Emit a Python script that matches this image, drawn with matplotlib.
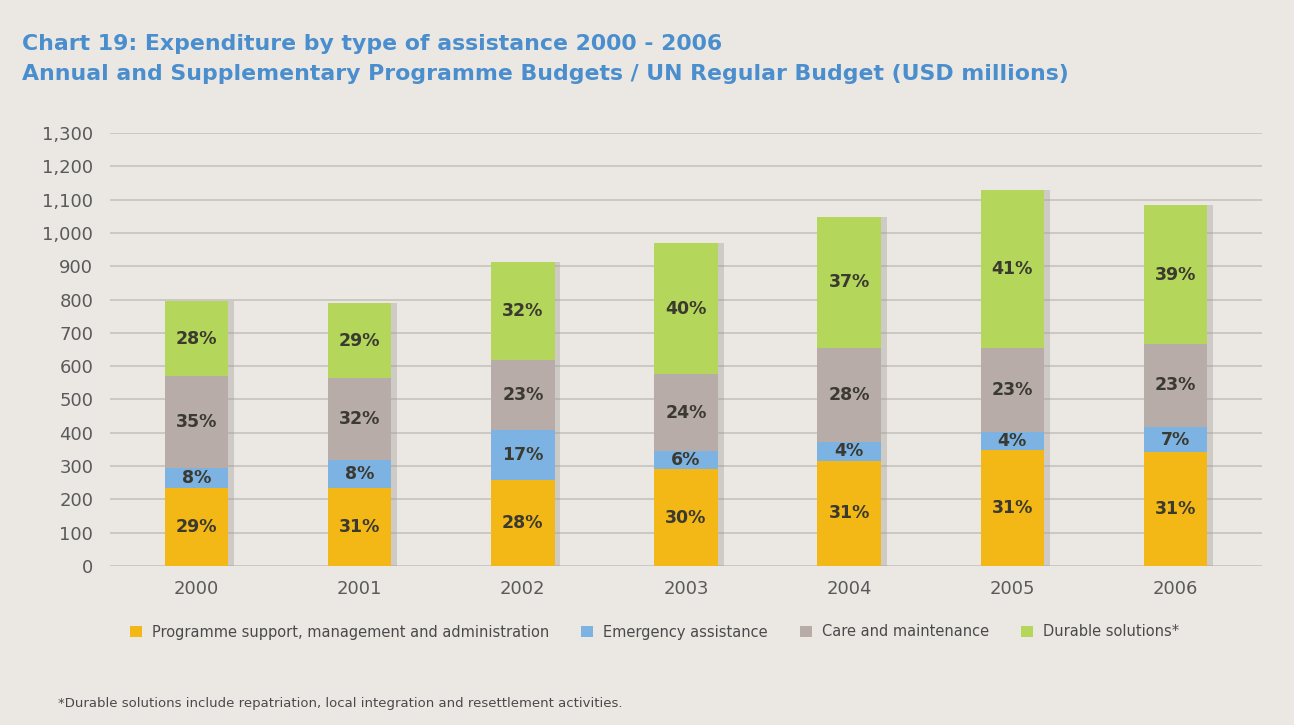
import numpy as np
import matplotlib
matplotlib.use('Agg')
import matplotlib.pyplot as plt

# data (USD millions)
years = ['2000', '2001', '2002', '2003', '2004', '2005', '2006']
programme = [233, 235, 258, 290, 316, 348, 341]
emergency = [62, 83, 150, 55, 57, 53, 77]
care = [275, 245, 210, 231, 282, 254, 248]
durable = [225, 227, 295, 394, 393, 474, 418]

pct_programme = ['29%', '31%', '28%', '30%', '31%', '31%', '31%']
pct_emergency = ['8%', '8%', '17%', '6%', '4%', '4%', '7%']
pct_care = ['35%', '32%', '23%', '24%', '28%', '23%', '23%']
pct_durable = ['28%', '29%', '32%', '40%', '37%', '41%', '39%']

series_names = ['Programme support, management and administration',
                'Emergency assistance', 'Care and maintenance', 'Durable solutions*']
colors = ['#f4b816', '#7db3e3', '#b7aca8', '#b4d65a']

bg = '#ebe8e4'
narrow = ['Liberation Sans Narrow', 'DejaVu Sans']

fig = plt.figure(figsize=[12.94, 7.25], dpi=100, facecolor=bg)
ax = fig.add_axes([110/1294, 1-566/725, 1152/1294, 433/725])
ax.set_facecolor(bg)

x = np.arange(len(years))
w = 0.39
vals = [programme, emergency, care, durable]
pcts = [pct_programme, pct_emergency, pct_care, pct_durable]

# soft shadow to the right of each bar
totals = np.sum(vals, axis=0)
ax.bar(x + 0.035, totals, w, color='#9a9590', alpha=0.35, zorder=2, linewidth=0)

bottom = np.zeros(len(years))
for v, c, p, name in zip(vals, colors, pcts, series_names):
    bars = ax.bar(x, v, w, bottom=bottom, color=c, label=name, zorder=3, linewidth=0)
    ax.bar_label(bars, labels=p, label_type='center', fontsize=12.5,
                 fontweight='bold', color='#3b3a30', zorder=4)
    bottom += np.array(v)

ax.set_xlim(-0.53, 6.53)
ax.set_ylim(0, 1300)
ax.set_yticks(range(0, 1301, 100))
ax.set_yticklabels([f'{t:,}' for t in range(0, 1301, 100)])
ax.set_xticks(x)
ax.set_xticklabels(years)
ax.grid(axis='y', color='#c9c5c1', linewidth=1.3, zorder=0)
ax.set_axisbelow(True)
for s in ax.spines.values():
    s.set_visible(False)
ax.tick_params(axis='both', length=0, labelsize=13, colors='#5a5a5a')
ax.tick_params(axis='y', pad=12)
ax.tick_params(axis='x', pad=10)

fig.text(22/1294, 1-44/725, 'Chart 19: Expenditure by type of assistance 2000 - 2006',
         fontsize=15.8, fontweight='bold', color='#4b8ecd', va='center', ha='left')
fig.text(22/1294, 1-74/725, 'Annual and Supplementary Programme Budgets / UN Regular Budget (USD millions)',
         fontsize=15.8, fontweight='bold', color='#4b8ecd', va='center', ha='left')

leg = ax.legend(loc='center left', bbox_to_anchor=(117/1294, 1-632/725),
                bbox_transform=fig.transFigure, ncol=4, frameon=False,
                handlelength=0.8, handleheight=0.8, handletextpad=0.7,
                columnspacing=2.2, prop={'family': narrow, 'size': 10.5})
for t in leg.get_texts():
    t.set_color('#4a4a4a')

fig.text(58/1294, 1-703/725,
         '*Durable solutions include repatriation, local integration and resettlement activities.',
         fontsize=9.5, color='#4a4a4a', va='center', ha='left', family=narrow)

plt.savefig('out.png', dpi=100, facecolor=bg)
